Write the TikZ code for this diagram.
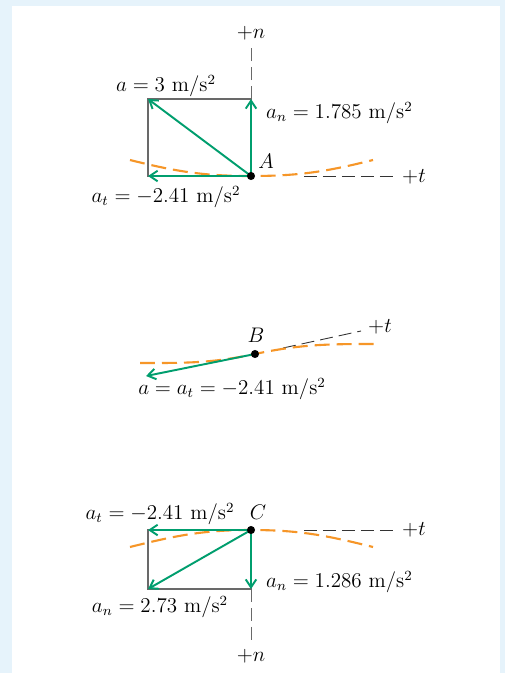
\documentclass[tikz,border=0pt]{standalone}
\usepackage{amsmath}
\usetikzlibrary{arrows.meta}
\definecolor{vecgreen}{RGB}{0,158,110}
\definecolor{pathorange}{RGB}{246,150,40}
\definecolor{panelblue}{RGB}{230,243,251}
\definecolor{axisgray}{RGB}{105,105,105}

\begin{document}
\begin{tikzpicture}[x=0.02cm, y=-0.02cm, font=\fontsize{12}{14}\selectfont,
    vec/.style={-{Straight Barb[length=4.5pt,width=6pt]}, vecgreen, line width=1.1pt},
    pathline/.style={pathorange, line width=1.2pt, dash pattern=on 0.3cm off 0.14cm},
    axisline/.style={axisgray, line width=0.5pt, dash pattern=on 0.26cm off 0.12cm},
    boxline/.style={axisgray, line width=0.7pt},
    dot/.style={circle, fill=black, inner sep=0pt, minimum size=4.6pt}]
        % panel
        \fill[panelblue] (0,0) rectangle (505,673);
        \fill[white] (12,6) rectangle (500,673);

        % point A
        \coordinate (A) at (251,176);
        \coordinate (An) at (251,99);
        \coordinate (Aa) at (148,99);
        \coordinate (At) at (148,176);
        \coordinate (AnEnd) at (251,43);
        \coordinate (AtBeg) at (304,176);
        \coordinate (AtEnd) at (396,176);
        \coordinate (Ap1) at (130,160);
        \coordinate (Ap2) at (373,160);
        \draw[boxline] (At) rectangle (An);
        \draw[axisline] (An) -- (AnEnd);
        \draw[axisline, black!80] (AtBeg) -- (AtEnd);
        \draw[pathline] (Ap1) to[out=-14,in=180] (A) to[out=0,in=194] (Ap2);
        \draw[vec] (A) -- (Aa);
        \draw[vec] (A) -- (An);
        \draw[vec] (A) -- (At);
        \node[dot] (dotA) at (A) {};
        \node (nA) at (251,33) {$+n$};
        \node (tA) [anchor=west] at (396,177) {$+t$};
        \node (lblA) at (266,161) {$A$};
        \node (aA) at (166,86) {$a = 3$ m/s$^2$};
        \node (anA) [anchor=west] at (260,113) {$a_n = 1.785$ m/s$^2$};
        \node (atA) at (166,197) {$a_t = -2.41$ m/s$^2$};

        % point B
        \coordinate (B) at (255,354);
        \coordinate (Ba) at (146,376);
        \coordinate (BtBeg) at (283,348);
        \coordinate (BtEnd) at (361,331);
        \coordinate (Bp1) at (140,363);
        \coordinate (Bp2) at (375,344);
        \draw[axisline, black!80] (BtBeg) -- (BtEnd);
        \draw[pathline] (Bp1) to[out=0,in=192] (B) to[out=12,in=180] (Bp2);
        \draw[vec] (B) -- (Ba);
        \node[dot] (dotB) at (B) {};
        \node (lblB) at (256,335) {$B$};
        \node (tB) [anchor=west] at (362,327) {$+t$};
        \node (aB) at (232,389) {$a = a_t = -2.41$ m/s$^2$};

        % point C
        \coordinate (C) at (251,530);
        \coordinate (Cn) at (251,589);
        \coordinate (Ca) at (148,589);
        \coordinate (Ct) at (148,530);
        \coordinate (CnEnd) at (251,645);
        \coordinate (CtBeg) at (304,530);
        \coordinate (CtEnd) at (396,530);
        \coordinate (Cp1) at (130,547);
        \coordinate (Cp2) at (373,547);
        \draw[boxline] (Ct) rectangle (Cn);
        \draw[axisline] (Cn) -- (CnEnd);
        \draw[axisline, black!80] (CtBeg) -- (CtEnd);
        \draw[pathline] (Cp1) to[out=14,in=180] (C) to[out=0,in=166] (Cp2);
        \draw[vec] (C) -- (Ct);
        \draw[vec] (C) -- (Ca);
        \draw[vec] (C) -- (Cn);
        \node[dot] (dotC) at (C) {};
        \node (lblC) at (258,512) {$C$};
        \node (tC) [anchor=west] at (396,530) {$+t$};
        \node (atC) at (160,514) {$a_t = -2.41$ m/s$^2$};
        \node (anC) [anchor=west] at (260,582) {$a_n = 1.286$ m/s$^2$};
        \node (aC) at (160,607) {$a_n = 2.73$ m/s$^2$};
        \node (nC) at (251,656) {$+n$};
\end{tikzpicture}
\end{document}
